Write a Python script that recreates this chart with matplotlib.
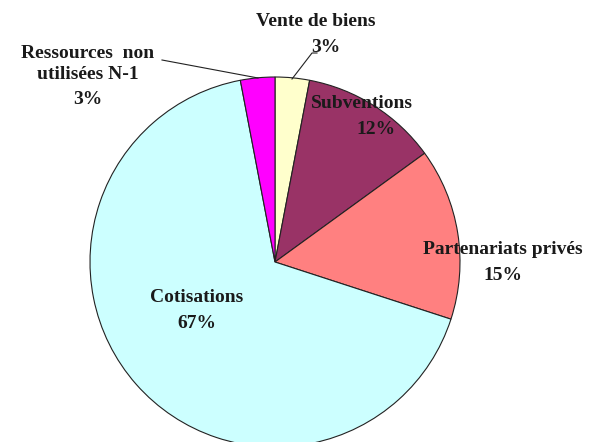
"""
Pie chart of resource shares
"""

import matplotlib
matplotlib.use('Agg')
import matplotlib.pyplot as plt

# Data (clockwise from top)
labels = ['Vente de biens', 'Subventions', 'Partenariats privés',
          'Cotisations', 'Ressources  non\nutilisées N-1']
shares = [3, 12, 15, 67, 3]
colors = ['#FFFFCC', '#993366', '#FF8080', '#CCFFFF', '#FF00FF']

W, H = 591, 442
CX, CY, R = 275, 262, 185


def px(x, y):
    # pixel position (from top-left) -> data coords
    return (x - CX) / R, (CY - y) / R


fig = plt.figure(figsize=(W / 100, H / 100), dpi=100)
ax = fig.add_axes([0, 0, 1, 1])

ax.pie(shares, colors=colors, startangle=90, counterclock=False, radius=1,
       wedgeprops=dict(edgecolor='#222222', linewidth=0.8))

# pie() resets limits, so set them afterwards
ax.set_aspect('auto')
ax.set_xlim(-CX / R, (W - CX) / R)
ax.set_ylim(-(H - CY) / R, CY / R)
ax.axis('off')

font = dict(family='Liberation Serif', fontweight='bold', fontsize=14,
            color='#1a1a1a', ha='center', va='center')

# label name / percent positions in pixels
name_pos = [(316, 22), (362, 104), (503, 250), (197, 298), (88, 64)]
pct_pos = [(326, 47), (376, 130), (503, 275), (197, 323), (88, 100)]

for lab, val, npos, ppos in zip(labels, shares, name_pos, pct_pos):
    ax.text(*px(*npos), lab, linespacing=1.3, **font)
    ax.text(*px(*ppos), f'{val}%', **font)

# leader lines
x1, y1 = px(292, 79)
x2, y2 = px(312, 53)
x3, y3 = px(317, 53)
ax.plot([x1, x2, x3], [y1, y2, y3], color='#222222', lw=0.8)

x1, y1 = px(162, 60)
x2, y2 = px(258, 78)
ax.plot([x1, x2], [y1, y2], color='#222222', lw=0.8)

plt.savefig('out.png', dpi=100)
